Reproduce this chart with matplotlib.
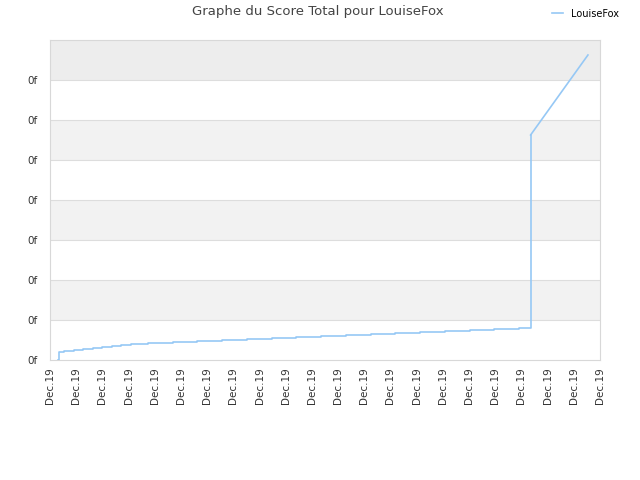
import numpy as np
import matplotlib
matplotlib.use("Agg")
import matplotlib.pyplot as plt

# score history (x = position along the date axis, in tick units)
step_times = [0.29, 0.33, 0.53, 0.92, 1.27, 1.65, 2.00, 2.38, 2.72, 3.10, 3.75,
              4.71, 5.62, 6.58, 7.53, 8.49, 9.39, 10.35, 11.30, 12.26, 13.17,
              14.13, 15.08, 16.04, 16.95, 17.91, 18.35]
step_scores = [0, 8.3, 9.3, 10.3, 11.3, 12.3, 13.3, 14.3, 15.3, 16.3, 17.3,
               18.3, 19.3, 20.3, 21.3, 22.3, 23.2, 24.3, 25.3, 26.3, 27.3,
               28.3, 29.3, 30.3, 31.3, 32.3, 225]
end_time = 20.54
end_score = 305

tick_labels = ["Dec.19"] * 22
ytick_vals = [0, 40, 80, 120, 160, 200, 240, 280]
line_color = "#96c8f5"

fig = plt.figure(figsize=(6.4, 4.8), dpi=100)
ax = fig.add_axes([50 / 640, 120 / 480, 550 / 640, 320 / 480])

# alternating background bands
for lo, hi in [(40, 80), (120, 160), (200, 240)]:
    ax.axhspan(lo, hi, color="#f2f2f2", zorder=0, lw=0)
ax.axhspan(280, 320, color="#ededed", zorder=0, lw=0)
for y in ytick_vals[1:]:
    ax.axhline(y, color="#dddddd", lw=0.8, zorder=1)

ax.plot(step_times, step_scores, drawstyle="steps-post", color=line_color,
        lw=1.2, zorder=3, label="LouiseFox")
ax.plot([step_times[-1], end_time], [step_scores[-1], end_score],
        color=line_color, lw=1.2, zorder=3)

ax.set_xlim(0, 21)
ax.set_ylim(0, 320)
ax.set_xticks(range(22))
ax.set_xticklabels(tick_labels, rotation=90, fontsize=7.5, color="#333333")
ax.set_yticks(ytick_vals)
ax.set_yticklabels(["0f"] * len(ytick_vals), fontsize=7.5, color="#333333")
ax.tick_params(length=0)
ax.tick_params(axis="y", pad=9)
ax.tick_params(axis="x", pad=5)
for s in ax.spines.values():
    s.set_color("#d8d8d8")

fig.text(0.497, 0.975, "Graphe du Score Total pour LouiseFox", ha="center",
         va="center", fontsize=9.5, color="#444444")
fig.legend(loc="upper right", bbox_to_anchor=(0.981, 1.0), frameon=False,
           fontsize=7, handlelength=1.2, handletextpad=0.8)

fig.savefig("out.png", dpi=100)
